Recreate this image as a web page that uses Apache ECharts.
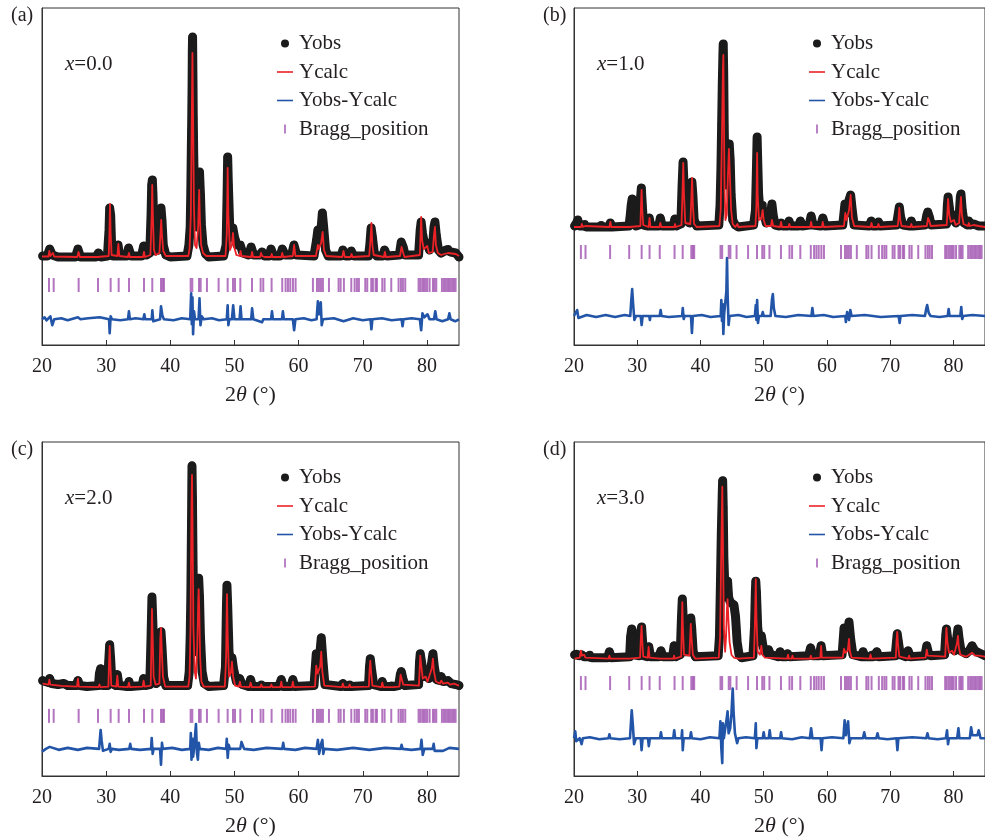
<!DOCTYPE html>
<html>
<head>
<meta charset="utf-8">
<script src="https://cdn.jsdelivr.net/npm/echarts@6/dist/echarts.min.js"></script>
<style>
html,body{margin:0;padding:0;background:#fff;}
#chart{width:985px;height:838px;}
</style>
</head>
<body>
<div id="chart"></div>
<script>
// ---------------- DATA (2θ in degrees, intensity in arbitrary units) ----------------
const xTicks = [20, 30, 40, 50, 60, 70, 80];
const seriesNames = ['Yobs', 'Ycalc', 'Yobs-Ycalc', 'Bragg_position'];
const panelLabels = ['(a)', '(b)', '(c)', '(d)'];
const compositions = ['0.0', '1.0', '2.0', '3.0'];

// Bragg reflection positions (2θ)
const braggPositions = [21.09, 21.82, 25.71, 28.73, 30.70, 31.95, 33.56, 35.90, 37.19, 38.55, 38.81, 39.01,
  43.17, 43.43, 44.47, 44.73, 45.71, 47.53, 48.94, 49.77, 50.08, 50.91, 52.73, 54.08, 54.49, 55.79,
  57.45, 57.97, 58.34, 58.70, 59.12, 59.53, 62.23, 62.86, 63.17, 63.48, 63.79, 64.73, 66.23, 66.55,
  67.06, 68.21, 68.73, 69.09, 69.40, 70.39, 70.70, 71.32, 71.58, 72.00, 72.21, 73.04, 73.40, 74.44,
  75.58, 75.95, 76.26, 76.62, 78.70, 78.96, 79.27, 79.53, 79.79, 80.05, 80.42, 80.94, 81.20, 81.46,
  82.34, 82.65, 82.91, 83.17, 83.43, 83.69, 83.95, 84.21, 84.47];

// ---- panel (a) x = 0.0 ----
const obsA = [[20.1,89],[20.8,89],[21.2,96],[21.6,90],[22.5,88],[25.2,88],[25.6,96],[26.0,88],[28.4,88],[28.8,92],[29.2,88],
[30.2,89],[30.45,115],[30.55,137],[30.7,130],[30.85,100],[31.1,89],[31.6,89],[31.85,100],[32.1,89],
[33.2,89],[33.5,97],[33.9,89],[35.5,89],[35.85,99],[36.3,90],
[36.8,92],[37.0,130],[37.1,160],[37.2,165],[37.3,150],[37.45,110],[37.7,94],
[38.2,95],[38.4,120],[38.55,137],[38.7,125],[38.9,100],[39.3,90],
[40.0,88],[42.6,89],[42.9,100],[43.1,118],[43.2,155],[43.28,198],[43.32,215],[43.36,237],[43.4,263],[43.43,293],[43.47,308],[43.52,273],[43.58,227],[43.65,190],[43.75,150],[43.9,125],[44.1,118],[44.3,140],[44.45,162],[44.55,173],[44.7,150],[44.85,120],[45.1,100],[45.5,91],[46.0,88],
[48.3,89],[48.7,100],[48.85,150],[48.94,188],[49.05,160],[49.25,120],[49.5,108],[49.75,117],[50.0,108],[50.4,100],[50.9,100],[51.3,92],
[52.2,90],[52.6,98],[53.0,90],[54.0,90],[54.3,93],[54.7,89],[55.4,89],[55.7,96],[56.1,89],[57.1,89],[57.45,96],[57.9,90],[58.9,90],[59.27,100],[59.7,90],
[62.4,89],[62.8,105],[63.0,115],[63.3,110],[63.55,120],[63.7,132],[63.9,118],[64.2,95],[64.6,89],
[66.6,89],[66.9,95],[67.3,89],[67.9,89],[68.2,94],[68.6,89],
[70.9,89],[71.1,100],[71.3,117],[71.5,108],[71.8,92],[72.2,89],
[73.1,89],[73.4,95],[73.8,89],[75.7,90],[76.0,103],[76.3,98],[76.6,90],
[78.7,90],[78.95,115],[79.1,123],[79.3,112],[79.6,102],[80.05,102],[80.4,95],[80.9,100],[81.1,118],[81.25,123],[81.45,110],[81.8,95],
[82.2,92],[83.0,95],[83.3,96],[83.7,93],[84.5,92],[85.0,88]];
const calcA = [[20.0,88.5],[21.0,88.5],[21.15,94],[21.3,89],[21.7,92],[21.9,88.5],[25.5,88],[25.7,93],[25.9,88],[28.6,88],[28.75,90],[28.9,88],
[30.4,89],[30.5,110],[30.6,141],[30.7,112],[30.85,90],[31.75,89],[31.9,101],[32.05,89],
[33.4,88],[33.55,92],[33.7,88],[35.75,88],[35.9,93],[36.05,88],
[36.9,90],[37.1,130],[37.18,160],[37.3,125],[37.45,95],[37.7,90],
[38.3,92],[38.5,115],[38.58,125],[38.7,110],[38.9,94],[39.3,89],
[42.8,89],[43.0,96],[43.2,130],[43.35,230],[43.45,292],[43.55,230],[43.68,140],[43.85,100],[44.1,97],[44.35,120],[44.5,155],[44.62,125],[44.8,100],[45.1,92],[45.6,89],
[48.6,89],[48.8,110],[48.94,177],[49.05,130],[49.3,95],[49.6,100],[49.77,112],[49.95,98],[50.3,90],[50.8,89],[50.95,94],[51.1,89],
[52.6,88],[52.75,93],[52.9,88],[54.0,88],[54.15,92],[54.3,89],[54.5,91],[54.7,88],
[55.7,88],[55.8,91],[55.95,88],[57.3,88],[57.45,92],[57.6,88],[59.1,89],[59.3,100],[59.5,89],
[62.7,89],[63.0,100],[63.15,96],[63.5,102],[63.75,113],[63.95,95],[64.3,89],
[66.8,88],[67.0,94],[67.2,88],[68.1,88],[68.25,91],[68.4,88],
[71.0,89],[71.2,105],[71.35,122],[71.5,100],[71.7,90],[73.3,88],[73.45,93],[73.6,88],
[75.8,89],[76.05,98],[76.3,92],[76.5,88],
[78.9,90],[79.1,128],[79.25,105],[79.5,96],[79.8,97],[80.05,99],[80.3,92],[80.9,93],[81.1,110],[81.25,118],[81.4,100],[81.7,92],
[82.2,90],[82.7,91],[83.3,92],[84.5,91],[84.8,93],[85.0,89]];
const diffA = [[20.0,0],[20.4,2],[20.7,-1],[21.0,-3],[21.3,3],[21.6,-6],[21.9,0],[23.0,1],[24.0,-1],[25.6,2],[26.0,0],[27.2,1],[29.0,2],[29.2,0],
[30.45,0],[30.55,-14],[30.7,3],[30.9,0],[32.2,-1],[33.4,0],[33.55,8],[33.7,0],[34.6,1],[35.8,0],[35.95,5],[36.1,0],
[37.1,0],[37.2,9],[37.35,-2],[37.5,0],[38.4,0],[38.55,13],[38.75,4],[39.0,0],[40.5,-1],[41.8,1],
[43.1,0],[43.25,26],[43.35,-5],[43.45,22],[43.55,-15],[43.7,8],[43.85,0],
[44.4,0],[44.55,21],[44.7,-6],[44.9,3],[45.2,0],[46.5,1],[47.6,-1],
[48.8,0],[48.94,14],[49.05,-6],[49.2,0],[49.6,0],[49.8,14],[50.0,0],[50.8,0],[50.95,13],[51.1,0],
[52.6,0],[52.75,11],[52.95,0],[54.3,-3],[54.5,0],[55.7,0],[55.85,8],[56.0,0],[57.4,0],[57.55,8],[57.7,0],
[59.1,0],[59.3,-11],[59.5,0],[60.8,1],[62.0,-1],[62.8,0],[63.0,18],[63.2,5],[63.45,17],[63.6,-6],[63.8,0],
[65.5,1],[67.0,-2],[68.5,1],[70.0,-1],
[71.2,0],[71.35,-10],[71.5,0],[73.0,1],[74.5,-1],[76.05,0],[76.2,-7],[76.35,0],[77.6,1],
[78.9,0],[79.1,-11],[79.3,6],[79.6,2],[80.1,5],[80.4,0],[81.1,0],[81.3,8],[81.5,0],[82.4,-2],[83.3,0],[83.5,6],[83.7,0],[84.4,-2],[85.0,0]];

// ---- panel (b) x = 1.0 ----
const obsB = [[20.1,119],[20.4,122],[20.6,125],[20.9,119],[21.5,119],[21.7,121],[22.0,118],[24.0,118],[24.3,120],[24.6,118],
[25.5,118],[25.75,122],[26.0,118],[28.7,119],[28.9,130],[29.05,140],[29.2,146],[29.35,138],[29.5,125],[29.8,119],
[30.3,120],[30.5,145],[30.65,157],[30.8,140],[31.0,120],[31.7,119],[31.9,127],[32.15,119],
[33.4,119],[33.65,127],[33.95,119],[35.7,119],[35.95,126],[36.2,119],
[36.9,121],[37.1,160],[37.25,183],[37.4,160],[37.6,125],[38.3,122],[38.5,150],[38.65,163],[38.8,150],[39.0,125],[39.4,119],
[42.9,120],[43.1,140],[43.25,180],[43.35,220],[43.45,260],[43.55,290],[43.6,301],[43.68,270],[43.75,220],[43.85,180],[44.0,160],[44.2,175],[44.4,195],[44.55,201],[44.7,185],[44.85,150],[45.1,125],[45.5,120],[46.0,118],
[48.4,120],[48.7,135],[48.85,175],[48.96,208],[49.05,185],[49.2,150],[49.45,132],[49.7,138],[49.85,140],[50.05,132],[50.4,122],[50.9,123],[51.15,135],[51.3,141],[51.5,130],[51.8,120],
[52.5,119],[52.75,122],[53.0,119],[53.8,119],[54.0,124],[54.3,119],[55.5,119],[55.8,124],[56.1,119],
[57.2,120],[57.5,129],[57.8,120],[59.0,119],[59.35,127],[59.7,119],
[62.5,120],[62.85,141],[63.1,132],[63.5,145],[63.75,150],[64.0,135],[64.3,120],
[66.7,119],[67.0,124],[67.3,119],[67.9,119],[68.16,123],[68.4,119],
[71.0,120],[71.25,130],[71.45,138],[71.65,128],[72.0,120],[73.1,119],[73.35,124],[73.6,119],
[75.5,120],[75.8,130],[75.95,133],[76.2,128],[76.5,120],
[78.9,121],[79.05,140],[79.16,148],[79.35,138],[79.6,125],[80.1,130],[80.4,122],[80.9,128],[81.1,148],[81.2,151],[81.4,135],[81.7,122],
[82.2,120],[82.43,124],[82.7,120],[83.2,121],[84.0,119],[85.0,119]];
const calcB = [[20.0,118],[21.1,118],[21.25,121],[21.4,118],[21.75,119],[21.9,118],[25.6,118],[25.75,123],[25.9,118],
[28.7,118],[28.85,120],[29.0,118],[30.5,119],[30.6,140],[30.69,155],[30.8,135],[30.95,120],
[31.8,118],[31.94,127],[32.1,118],[33.5,118],[33.65,122],[33.8,118],[35.85,118],[35.98,121],[36.1,118],
[37.0,120],[37.15,150],[37.28,182],[37.4,150],[37.6,122],[38.4,121],[38.55,145],[38.68,167],[38.8,140],[39.0,121],[39.4,118],
[43.0,119],[43.2,135],[43.4,210],[43.55,275],[43.62,290],[43.7,240],[43.8,160],[43.95,125],[44.15,130],[44.35,170],[44.5,196],[44.65,170],[44.85,135],[45.1,121],[45.5,118],
[45.75,118],[45.85,121],[46.0,118],
[48.7,119],[48.85,140],[48.96,192],[49.05,150],[49.25,125],[49.6,126],[49.84,135],[50.0,125],[50.3,119],[51.15,119],[51.3,125],[51.5,119],
[52.6,118],[52.75,123],[52.9,118],[53.9,118],[54.05,121],[54.2,118],[55.7,118],[55.85,120],[56.0,118],
[57.35,118],[57.5,123],[57.65,118],[59.2,118],[59.34,123],[59.5,118],
[62.7,119],[62.9,132],[63.1,125],[63.5,135],[63.75,150],[63.95,128],[64.3,119],
[66.9,118],[67.05,122],[67.2,118],[68.0,118],[68.15,121],[68.3,118],
[71.2,119],[71.35,128],[71.45,137],[71.6,125],[71.8,119],[73.2,118],[73.35,121],[73.5,118],
[75.8,119],[76.0,127],[76.2,124],[76.4,119],
[78.95,120],[79.16,146],[79.35,130],[79.6,123],[80.1,125],[80.35,120],[80.9,122],[81.1,140],[81.2,148],[81.35,130],[81.6,121],
[82.3,119],[82.45,122],[82.6,119],[83.2,120],[84.0,119],[85.0,118]];
const diffB = [[20.0,0],[20.3,0],[20.5,6],[20.7,-2],[20.9,0],[22.0,1],[23.5,-1],[25.0,1],[26.5,-1],[28.0,1],
[28.9,0],[29.05,15],[29.2,27],[29.35,12],[29.55,-4],[29.8,0],[30.55,0],[30.7,-9],[30.85,0],[31.9,0],[32.0,-4],[32.1,0],
[33.55,0],[33.7,6],[33.85,0],[35.0,-1],[37.1,0],[37.2,8],[37.35,-3],[37.5,0],[38.5,0],[38.65,-17],[38.8,0],[40.2,1],[41.6,-1],
[43.2,0],[43.3,16],[43.4,-5],[43.5,12],[43.62,-18],[43.75,2],[43.9,0],
[44.0,0],[44.1,25],[44.2,58],[44.3,20],[44.45,-9],[44.6,0],[46.0,1],[47.3,-1],
[48.6,0],[48.75,11],[48.85,-4],[48.96,16],[49.1,-7],[49.25,0],[49.7,0],[49.85,4],[50.0,0],
[51.1,0],[51.3,16],[51.45,22],[51.6,8],[51.85,0],[53.5,-1],[55.5,1],[57.55,0],[57.7,8],[57.85,0],[59.5,1],[61.0,-1],
[62.9,0],[63.0,-6],[63.2,4],[63.5,-4],[63.7,6],[63.9,0],[66.0,1],[68.5,-1],[71.35,0],[71.5,-7],[71.65,0],[73.5,1],
[75.5,0],[75.7,7],[75.85,11],[76.1,3],[76.4,0],[77.8,-1],[79.1,0],[79.25,7],[79.4,0],
[81.1,0],[81.25,9],[81.4,-3],[81.55,0],[83.0,1],[85.0,0]];

// ---- panel (c) x = 2.0 ----
const obsC = [[20.1,96],[20.5,95],[21.0,94],[21.2,98],[21.5,93],[22.5,92],[23.4,93],[24.0,91],[25.3,91],[25.6,96],[25.9,91],[27.0,90],
[28.8,91],[28.95,103],[29.14,108],[29.3,102],[29.5,91],[30.2,91],[30.4,115],[30.55,132],[30.7,118],[30.9,93],
[31.5,91],[31.74,102],[32.0,91],[33.3,90],[33.56,95],[33.8,90],[35.6,91],[35.84,98],[36.1,91],
[36.8,92],[37.0,140],[37.14,180],[37.3,150],[37.5,100],[37.8,93],[38.2,95],[38.4,130],[38.55,145],[38.7,130],[38.95,100],[39.3,91],
[42.7,91],[42.95,105],[43.1,140],[43.2,180],[43.3,250],[43.38,312],[43.45,280],[43.55,210],[43.7,150],[43.9,125],[44.1,150],[44.3,185],[44.42,199],[44.55,180],[44.7,140],[44.95,105],[45.3,93],[46.0,90],
[48.3,91],[48.6,110],[48.75,170],[48.83,192],[48.95,170],[49.15,125],[49.4,115],[49.61,119],[49.85,108],[50.3,95],[50.8,98],[51.2,92],
[52.2,90],[52.52,97],[52.8,90],[54.0,90],[54.2,92],[54.5,90],[56.9,90],[57.3,97],[57.6,90],[58.8,90],[59.1,97],[59.4,90],
[62.4,91],[62.75,123],[63.0,118],[63.3,122],[63.53,139],[63.8,115],[64.1,92],
[66.6,90],[66.9,93],[67.2,90],[67.7,90],[67.95,92],[68.2,90],
[70.9,91],[71.05,110],[71.17,118],[71.35,108],[71.7,92],[72.8,90],[73.04,95],[73.3,90],[74.3,90],[74.5,91],[74.8,90],
[75.6,91],[75.85,102],[76.0,105],[76.25,98],[76.6,91],
[78.7,92],[78.85,115],[78.96,123],[79.15,115],[79.5,100],[79.9,102],[80.3,98],[80.7,112],[80.94,123],[81.15,110],[81.5,97],
[82.0,96],[82.23,100],[82.6,95],[83.27,96],[83.8,93],[84.5,92],[85.0,91]];
const calcC = [[20.1,93],[21.0,92],[21.15,97],[21.3,92],[22.0,91.5],[23.0,90.7],[25.45,90],[25.6,98],[25.75,90],
[28.8,89.5],[28.95,92],[29.1,89.5],[30.35,90],[30.45,115],[30.55,131],[30.65,115],[30.8,91],
[31.6,90],[31.74,101],[31.9,90],[33.4,89.5],[33.56,94],[33.7,89.5],[35.7,90],[35.84,96],[36.0,90],
[36.95,91],[37.07,140],[37.14,168],[37.25,140],[37.4,100],[37.7,92],[38.3,93],[38.45,140],[38.55,149],[38.65,130],[38.85,100],[39.2,90],
[42.8,90],[43.0,100],[43.15,150],[43.3,270],[43.38,303],[43.47,250],[43.6,150],[43.8,105],[44.0,98],[44.2,130],[44.35,175],[44.42,188],[44.5,170],[44.65,120],[44.85,95],[45.2,90],
[48.5,90],[48.7,120],[48.83,183],[48.95,140],[49.15,100],[49.45,104],[49.61,115],[49.8,100],[50.1,91],[50.7,90],[50.85,95],[51.0,90],
[52.35,89.5],[52.52,94],[52.7,89.5],[54.0,89.5],[54.18,92],[54.35,89.5],[55.6,89.5],[55.75,92],[55.9,89.5],
[57.15,89.5],[57.3,95],[57.45,89.5],[58.95,89.5],[59.1,95],[59.25,89.5],
[62.55,90],[62.75,111],[62.95,103],[63.35,110],[63.53,125],[63.7,105],[64.0,91],
[66.75,89.5],[66.9,93],[67.05,89.5],[67.8,89.5],[67.95,92],[68.1,89.5],
[70.95,90],[71.05,105],[71.17,116],[71.3,105],[71.5,91],[72.9,89.5],[73.04,94],[73.2,89.5],[74.3,89.5],[74.5,91],[74.7,89.5],
[75.7,90],[75.9,102],[76.05,100],[76.3,92],
[78.75,91],[78.96,121],[79.1,112],[79.35,98],[79.8,100],[80.1,95],[80.75,108],[80.94,118],[81.1,105],[81.4,95],
[82.0,93],[82.23,96],[82.5,93],[83.27,94],[83.6,92],[84.2,93],[84.6,92],[85.0,91]];
const diffC = [[20.0,-3],[20.3,-5],[20.6,0],[21.2,2],[21.4,0],[22.6,-1],[24.0,1],[25.6,-1],[27.0,1],
[28.9,0],[29.05,12],[29.14,19],[29.3,8],[29.5,-2],[29.8,0],[30.4,0],[30.55,5],[30.7,-3],[30.9,0],[32.0,-1],
[33.6,0],[33.75,5],[33.9,0],[35.3,-1],[37.0,0],[37.1,11],[37.25,-5],[37.4,0],[38.4,0],[38.55,-16],[38.7,6],[38.85,0],[40.3,1],[41.8,-1],
[43.1,0],[43.2,16],[43.3,-11],[43.45,10],[43.55,-8],[43.7,0],[43.85,0],[44.0,25],[44.15,-4],[44.3,-11],[44.45,6],[44.6,0],[46.0,-1],[47.4,1],
[48.7,0],[48.8,10],[48.95,-9],[49.1,4],[49.3,0],[50.9,0],[51.1,7],[51.25,9],[51.5,0],[53.0,-1],[55.0,1],[57.45,0],[57.6,6],[57.75,0],[59.5,-1],[61.0,1],
[62.8,0],[63.0,9],[63.2,-5],[63.5,5],[63.7,9],[63.85,-5],[64.0,0],[66.0,-1],[68.5,1],[71.0,-1],[73.5,1],[75.9,0],[76.05,4],[76.2,0],[77.6,-1],
[79.0,0],[79.15,9],[79.35,-6],[79.6,0],[80.9,0],[81.05,5],[81.2,-2],[81.4,0],[82.5,-2],[83.5,1],[85.0,0]];

// ---- panel (d) x = 3.0 ----
const obsD = [[20.1,122],[20.4,123],[20.8,121],[21.2,122],[21.6,120],[22.2,120],[22.5,122],[22.8,119],[25.3,119],[25.6,125],[25.9,119],
[28.8,120],[28.95,140],[29.13,148],[29.3,140],[29.5,122],[30.35,121],[30.55,145],[30.69,150],[30.85,135],[31.0,121],
[31.6,120],[31.83,130],[32.1,120],[33.4,120],[33.75,126],[34.1,120],[35.6,120],[35.83,131],[36.1,120],
[36.8,122],[37.0,160],[37.13,178],[37.3,155],[37.5,125],[38.2,125],[38.35,150],[38.47,159],[38.6,150],[38.85,125],[39.2,120],
[42.8,121],[43.0,140],[43.15,190],[43.3,245],[43.45,285],[43.51,297],[43.6,270],[43.7,220],[43.85,190],[44.0,180],[44.15,192],[44.29,196],[44.45,180],[44.7,175],[45.0,173],[45.3,172],[45.55,160],[45.8,135],[46.1,122],[46.5,119],
[48.3,121],[48.55,150],[48.68,185],[48.75,196],[48.85,185],[49.05,150],[49.3,135],[49.63,141],[49.9,130],[50.3,124],[50.77,127],[51.1,122],
[52.3,120],[52.59,125],[52.9,120],[53.6,120],[53.78,123],[54.1,120],[57.1,121],[57.42,129],[57.75,121],[58.8,121],[59.08,131],[59.35,121],
[62.4,122],[62.71,149],[63.0,140],[63.3,145],[63.49,155],[63.75,138],[64.1,122],
[65.4,120],[65.72,125],[66.0,120],[66.9,120],[67.1,122],[67.3,120],[67.6,120],[67.9,125],[68.2,120],
[70.8,121],[71.0,135],[71.12,143],[71.3,135],[71.6,122],[72.5,120],[72.83,126],[73.2,120],
[75.5,121],[75.79,131],[76.05,124],[76.4,121],
[78.6,122],[78.8,142],[78.9,148],[79.1,138],[79.4,128],[79.8,128],[80.2,126],[80.55,140],[80.72,148],[80.9,138],[81.2,126],
[82.0,123],[82.5,126],[82.95,131],[83.4,126],[84.0,124],[85.0,121]];
const calcD = [[20.1,118],[20.9,119],[21.1,126],[21.25,121],[21.6,122],[21.8,119],[25.45,118],[25.6,121],[25.75,118],
[28.8,118],[28.95,119],[29.1,118],[30.45,119],[30.58,140],[30.69,151],[30.8,135],[30.95,120],
[31.65,119],[31.8,130],[31.95,119],[33.6,118],[33.75,120],[33.9,118],[35.7,118],[35.83,121],[35.95,118],
[36.95,120],[37.05,150],[37.13,175],[37.22,150],[37.4,122],[38.25,121],[38.38,140],[38.47,153],[38.58,140],[38.8,122],[39.2,118],
[42.9,119],[43.1,140],[43.3,230],[43.45,291],[43.55,240],[43.7,150],[43.9,125],[44.05,140],[44.2,170],[44.29,178],[44.4,160],[44.6,135],[44.9,122],[45.3,119],[45.6,120],[45.9,118],
[48.45,119],[48.6,150],[48.75,198],[48.85,160],[49.05,125],[49.4,122],[49.63,131],[49.8,122],[50.2,119],
[53.7,118],[53.85,122],[54.0,118],[54.4,118],[54.55,121],[54.7,118],[57.3,118],[57.45,121],[57.6,118],
[58.95,119],[59.08,131],[59.2,119],
[62.5,119],[62.71,128],[62.9,124],[63.3,126],[63.49,138],[63.65,125],[63.9,119],
[66.75,118],[66.9,122],[67.05,118],
[70.9,119],[71.0,135],[71.12,145],[71.25,132],[71.45,120],[72.85,118],[73.0,121],[73.15,118],
[75.6,119],[75.79,127],[75.95,121],[76.2,119],
[78.7,120],[78.9,149],[79.05,135],[79.3,124],[79.8,126],[80.1,122],[80.55,133],[80.72,141],[80.85,130],[81.1,122],
[82.0,120],[82.5,122],[82.95,124],[83.4,121],[84.0,121],[85.0,120]];
const diffD = [[20.0,0],[20.2,7],[20.35,-3],[20.6,-5],[20.9,0],[21.2,-6],[21.4,0],[22.5,1],[24.0,-1],[25.45,0],[25.6,4],[25.75,0],[27.2,-1],
[28.85,0],[29.0,15],[29.13,28],[29.3,14],[29.5,-6],[29.8,0],[30.55,0],[30.69,-12],[30.85,0],[31.7,0],[31.83,-8],[32.0,0],
[33.6,0],[33.75,6],[33.9,0],[35.7,0],[35.85,8],[36.0,0],[37.0,0],[37.1,8],[37.2,-12],[37.35,0],[38.35,0],[38.5,6],[38.65,0],[40.0,-1],[41.5,1],
[43.0,0],[43.15,17],[43.3,-10],[43.45,-25],[43.55,15],[43.7,0],
[44.0,0],[44.15,20],[44.29,27],[44.45,5],[44.7,10],[44.9,25],[45.1,50],[45.25,25],[45.45,5],[45.8,-5],[46.0,0],[47.2,1],
[48.6,0],[48.75,15],[48.85,-10],[49.0,0],[49.85,0],[50.0,6],[50.15,0],[50.8,0],[50.95,8],[51.1,0],[52.6,0],[52.75,6],[52.9,0],[54.5,-1],[56.0,1],
[57.3,0],[57.5,10],[57.7,0],[59.0,0],[59.15,-12],[59.3,0],[60.8,1],
[62.6,0],[62.8,18],[63.0,3],[63.35,17],[63.55,-5],[63.75,0],[65.7,0],[65.9,6],[66.1,0],[67.8,0],[68.0,5],[68.2,0],[69.6,-1],
[71.0,0],[71.15,-12],[71.3,0],[73.5,1],[75.7,0],[75.9,5],[76.1,0],[77.5,-1],[78.8,0],[79.0,8],[79.15,-6],[79.3,0],[80.6,0],[80.8,10],[80.95,0],
[82.6,0],[82.8,11],[83.0,3],[83.8,3],[84.0,8],[84.3,0],[85.0,0]];

// ---------------- LAYOUT / STYLE ----------------
const FONT = "'Liberation Serif', 'Times New Roman', serif";
const TXT = '#231f20';
const AX = '#333333';
const C_OBS = '#1b1b1b', C_CALC = '#ec2227', C_DIFF = '#2255a8', C_BRAGG = '#a052b0';

const panels = [
  {obs: obsA, calc: calcA, diff: diffA, left: 42,  top: 8,   h: 337, diffBase: 25.7, braggMid: 60},
  {obs: obsB, calc: calcB, diff: diffB, left: 574, top: 8,   h: 337, diffBase: 29,   braggMid: 93},
  {obs: obsC, calc: calcC, diff: diffC, left: 42,  top: 442, h: 336, diffBase: 27.3, braggMid: 60.5},
  {obs: obsD, calc: calcD, diff: diffD, left: 574, top: 442, h: 336, diffBase: 38,   braggMid: 93.5}
];
const PW = 417;

const ICON_DOT = 'path://M0,0M18,12M5,6a4,4 0 1 0 8,0a4,4 0 1 0 -8,0Z';
const ICON_LINE = 'path://M0,0M18,12M1,5.2h16v1.6h-16Z';
const ICON_TICK = 'path://M0,0M18,12M8.1,1.5h1.8v9h-1.8Z';
const legendIcons = [ICON_DOT, ICON_LINE, ICON_LINE, ICON_TICK];

const option = {
  animation: false,
  backgroundColor: '#ffffff',
  grid: [], xAxis: [], yAxis: [], series: [], legend: [], title: []
};

panels.forEach((p, i) => {
  option.grid.push({left: p.left, top: p.top, width: PW, height: p.h, show: true,
    borderColor: AX, borderWidth: 1, backgroundColor: 'transparent'});
  option.xAxis.push({
    type: 'value', gridIndex: i, min: 20, max: 85, interval: 10,
    axisLine: {show: true, onZero: false, lineStyle: {color: AX, width: 1}},
    axisTick: {show: true, inside: true, length: 5, lineStyle: {color: AX}},
    axisLabel: {show: true, margin: 12, color: TXT, fontFamily: FONT, fontSize: 20,
      showMaxLabel: false,
      formatter: v => (xTicks.indexOf(v) >= 0 ? String(v) : '')},
    splitLine: {show: false},
    name: '2{i|θ} (°)', nameLocation: 'middle', nameGap: 39,
    nameTextStyle: {color: TXT, fontFamily: FONT, fontSize: 22,
      rich: {i: {fontStyle: 'italic', fontFamily: FONT, fontSize: 22, color: TXT}}}
  });
  option.yAxis.push({
    type: 'value', gridIndex: i, min: 0, max: p.h,
    axisLine: {show: true, lineStyle: {color: AX, width: 1}},
    axisTick: {show: false}, axisLabel: {show: false}, splitLine: {show: false}
  });
  option.series.push({
    name: seriesNames[0], type: 'line', xAxisIndex: i, yAxisIndex: i, z: 2,
    data: p.obs, symbol: 'circle', symbolSize: 8, showSymbol: true, showAllSymbol: true,
    itemStyle: {color: C_OBS},
    lineStyle: {color: C_OBS, width: 9, cap: 'round', join: 'round'}
  });
  option.series.push({
    name: seriesNames[1], type: 'line', xAxisIndex: i, yAxisIndex: i, z: 4,
    data: p.calc, symbol: 'none', itemStyle: {color: C_CALC},
    lineStyle: {color: C_CALC, width: 1.8, join: 'round'}
  });
  option.series.push({
    name: seriesNames[2], type: 'line', xAxisIndex: i, yAxisIndex: i, z: 4,
    data: p.diff.map(d => [d[0], d[1] + p.diffBase]), symbol: 'none', itemStyle: {color: C_DIFF},
    lineStyle: {color: C_DIFF, width: 2.6, join: 'round'}
  });
  option.series.push({
    name: seriesNames[3], type: 'scatter', xAxisIndex: i, yAxisIndex: i, z: 4,
    data: braggPositions.map(x => [x, p.braggMid]), symbol: 'rect', symbolSize: [2, 14],
    itemStyle: {color: C_BRAGG}
  });
  option.legend.push({
    orient: 'vertical', left: p.left + 234, top: p.top + 25, padding: 0,
    itemWidth: 18, itemHeight: 12, itemGap: 7.5, selectedMode: false,
    itemStyle: {borderWidth: 0},
    textStyle: {color: TXT, fontFamily: FONT, fontSize: 21, lineHeight: 21},
    data: seriesNames.map((n, k) => ({name: n, icon: legendIcons[k]}))
  });
  option.title.push({
    text: panelLabels[i], left: p.left - 31, top: p.top - 2, padding: 0,
    textStyle: {color: TXT, fontFamily: FONT, fontSize: 20, fontWeight: 'normal'}
  });
  option.title.push({
    text: '{i|x}=' + compositions[i], left: p.left + 23, top: p.top + 46, padding: 0,
    textStyle: {color: TXT, fontFamily: FONT, fontSize: 21, fontWeight: 'normal',
      rich: {i: {fontStyle: 'italic', fontFamily: FONT, fontSize: 21, color: TXT}}}
  });
});

const chart = echarts.init(document.getElementById('chart'), null, {renderer: 'canvas'});
chart.setOption(option);
</script>
</body>
</html>
